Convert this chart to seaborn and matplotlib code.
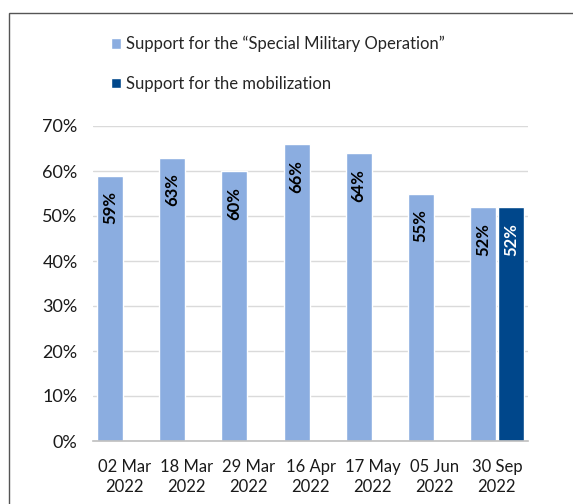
import matplotlib.pyplot as plt
import matplotlib.patches as mpatches
import seaborn as sns
import pandas as pd
import numpy as np

# data
dates = ['02 Mar\n2022', '18 Mar\n2022', '29 Mar\n2022', '16 Apr\n2022',
         '17 May\n2022', '05 Jun\n2022', '30 Sep\n2022']
smo_support = [0.59, 0.63, 0.60, 0.66, 0.64, 0.55, 0.52]
mobilization_support = [np.nan, np.nan, np.nan, np.nan, np.nan, np.nan, 0.52]
series_names = ['Support for the \u201cSpecial Military Operation\u201d',
                'Support for the mobilization']
colors = ['#8BADE0', '#00478B']

df = pd.DataFrame({
    'Date': dates * 2,
    'Share': smo_support + mobilization_support,
    'Series': [series_names[0]] * len(dates) + [series_names[1]] * len(dates),
})

sns.set_style('white')
plt.rcParams['font.family'] = ['Lato', 'DejaVu Sans']

fig = plt.figure(figsize=(5.73, 5.04), dpi=100)
ax = fig.add_axes([93 / 573, 1 - 441 / 504, 435 / 573, 315 / 504])

sns.barplot(data=df, x='Date', y='Share', hue='Series', palette=colors,
            width=0.9, gap=0.07, saturation=1, ax=ax)

ax.set_ylim(0, 0.7)
ax.set_yticks(np.arange(0, 0.71, 0.1))
ax.set_yticklabels([f'{int(round(v * 100))}%' for v in np.arange(0, 0.71, 0.1)],
                   fontsize=13, color='#1a1a1a')
ax.set_xlim(-0.5, len(dates) - 0.5)
ax.set_xlabel('')
ax.set_ylabel('')
ax.yaxis.grid(True, color='#DADADA', linewidth=1)
ax.set_axisbelow(True)
for s in ['top', 'right', 'left']:
    ax.spines[s].set_visible(False)
ax.spines['bottom'].set_color('#BFBFBF')
ax.spines['bottom'].set_linewidth(1.2)
ax.tick_params(axis='y', length=0, pad=11)
ax.tick_params(axis='x', which='major', length=0, pad=13, labelsize=12,
               labelcolor='#1a1a1a')
for lab in ax.get_xticklabels():
    lab.set_linespacing(1.3)
ax.set_xticks(np.arange(-0.5, len(dates), 1), minor=True)
ax.tick_params(axis='x', which='minor', length=6, color='#BFBFBF', width=1.2)

# value labels inside bars
for cont, txtcol in zip(ax.containers, ['black', 'white']):
    for p in cont.patches:
        h = p.get_height()
        if np.isnan(h) or h == 0:
            continue
        ax.text(p.get_x() + p.get_width() / 2, h - 0.035, f'{int(round(h * 100))}%',
                rotation=90, ha='center', va='top', fontsize=12,
                fontweight='bold', color=txtcol)

sns.move_legend(ax, loc='upper left', bbox_to_anchor=(96 / 573, 1 - 21 / 504),
                bbox_transform=fig.transFigure, frameon=False, title=None,
                fontsize=12, handlelength=0.6, handleheight=0.6,
                handletextpad=0.3, labelspacing=1.4)

# outer frame (cropped at right and bottom in the reference)
fig.patches.append(mpatches.Rectangle((9 / 573, -0.05), 1.0, 1 - 13 / 504 + 0.05,
                                      transform=fig.transFigure, fill=False,
                                      edgecolor='#555555', linewidth=1.0))

fig.savefig('out.png', dpi=100)
